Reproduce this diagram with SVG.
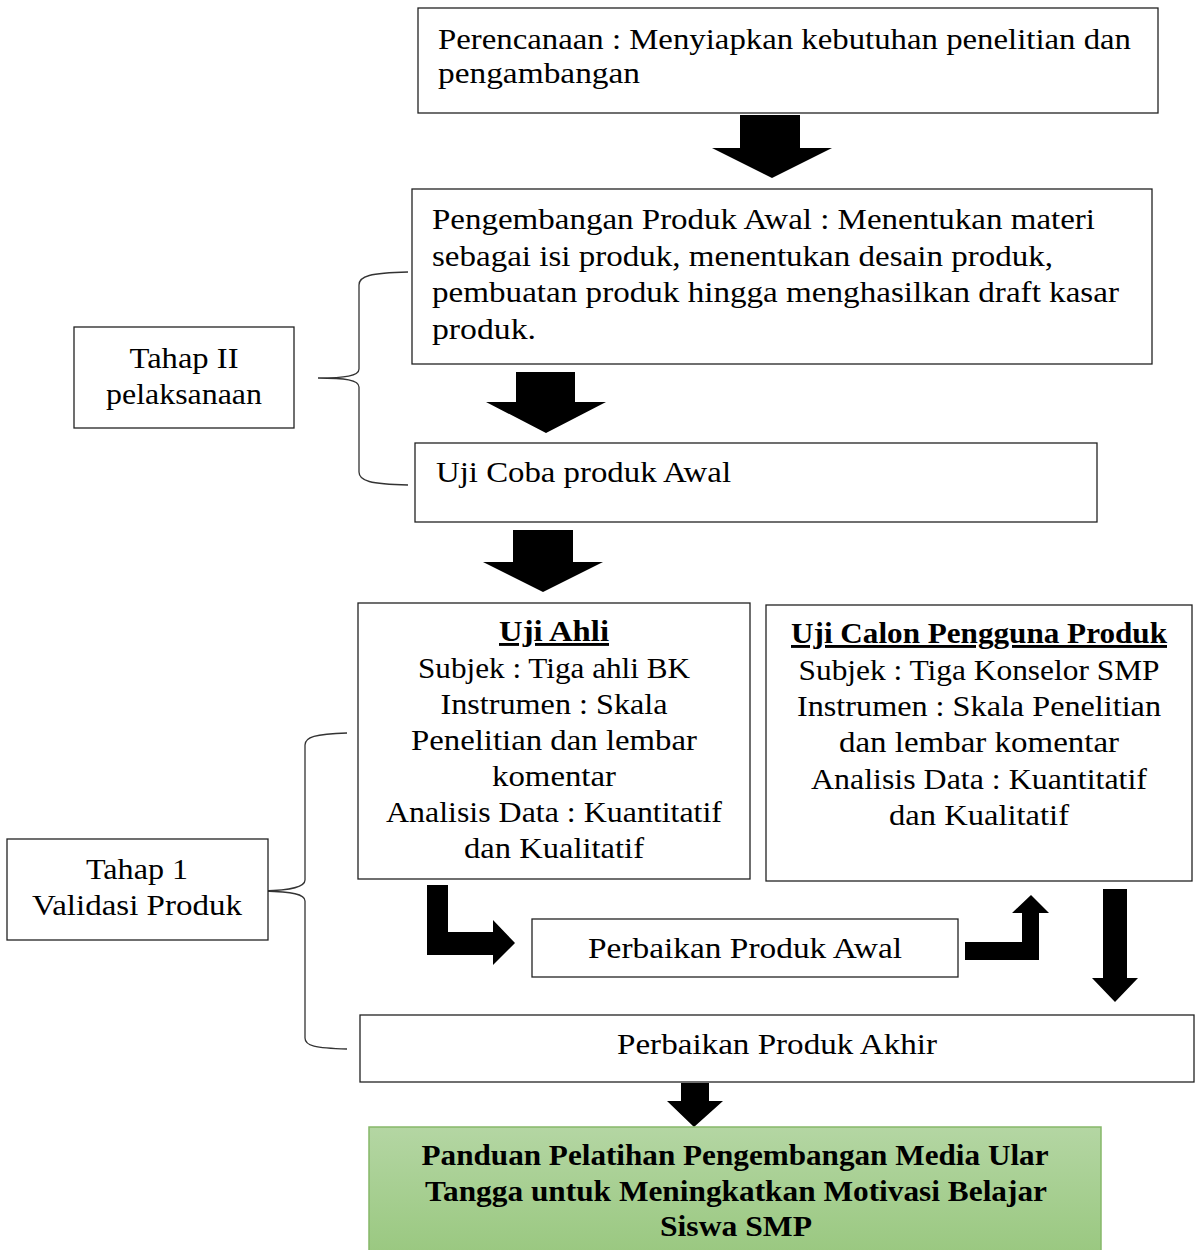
<svg xmlns="http://www.w3.org/2000/svg" width="1197" height="1250" viewBox="0 0 1197 1250">
<style>
.box{fill:#fff;stroke:#222;stroke-width:1.3}
.t{font-family:"Liberation Serif","Times New Roman",serif;font-size:29px;fill:#000}
.c{text-anchor:middle}
.b{font-weight:bold}
.u{text-decoration:underline}
.arr{fill:#000;stroke:none}
.brace{fill:none;stroke:#333;stroke-width:1.3}
</style>
<defs>
<linearGradient id="g" x1="0" y1="0" x2="0" y2="1">
<stop offset="0" stop-color="#b4d6a3"/>
<stop offset="1" stop-color="#98c77e"/>
</linearGradient>
</defs>
<rect width="1197" height="1250" fill="#fff"/>

<g id="connectors">
<path class="arr" d="M740,115 H800 V148 H832 L772,178 L712,148 H740 Z"/>
<path class="arr" d="M516,372 H575 V402 H606 L546,433 L486,402 H516 Z"/>
<path class="arr" d="M513,530 H573 V562 H603 L543,592 L483,562 H513 Z"/>
<path class="arr" d="M427,885 H448 V932 H493 V920 L515,943 L493,965 V955 H427 Z"/>
<path class="arr" d="M965,942 H1022 V913 H1012 L1031,895 L1049,913 H1039 V960 H965 Z"/>
<path class="arr" d="M1103,889 H1127 V978 H1138 L1115,1002 L1092,978 H1103 Z"/>
<path class="arr" d="M681,1083 H709 V1101 H723 L694,1127 L667,1101 H681 Z"/>
<path class="brace" d="M408,272 C370,273 359,276 359,285 V369 C359,376 345,378 318,378 C345,378 359,380 359,387 V472 C359,481 370,484 408,485"/>
<path class="brace" d="M347,733 C315,734 305,737 305,745 V880 C305,887 292,890 264,891 C292,892 305,894 305,901 V1038 C305,1046 315,1048 347,1049"/>
</g>

<g id="perencanaan">
<rect class="box" x="418" y="8" width="740" height="105"/>
<text class="t" x="438" y="49" textLength="693" lengthAdjust="spacingAndGlyphs">Perencanaan : Menyiapkan kebutuhan penelitian dan</text>
<text class="t" x="438" y="83" textLength="202" lengthAdjust="spacingAndGlyphs">pengambangan</text>
</g>

<g id="pengembangan">
<rect class="box" x="412" y="189" width="740" height="175"/>
<text class="t" x="432" y="229" textLength="663" lengthAdjust="spacingAndGlyphs">Pengembangan Produk Awal : Menentukan materi</text>
<text class="t" x="432" y="266" textLength="621" lengthAdjust="spacingAndGlyphs">sebagai isi produk, menentukan desain produk,</text>
<text class="t" x="432" y="302" textLength="687" lengthAdjust="spacingAndGlyphs">pembuatan produk hingga menghasilkan draft kasar</text>
<text class="t" x="432" y="339" textLength="104" lengthAdjust="spacingAndGlyphs">produk.</text>
</g>

<g id="ujicoba">
<rect class="box" x="415" y="443" width="682" height="79"/>
<text class="t" x="436" y="482" textLength="295" lengthAdjust="spacingAndGlyphs">Uji Coba produk Awal</text>
</g>

<g id="tahap2">
<rect class="box" x="74" y="327" width="220" height="101"/>
<text class="t c" x="184" y="368" textLength="109" lengthAdjust="spacingAndGlyphs">Tahap II</text>
<text class="t c" x="184" y="404" textLength="156" lengthAdjust="spacingAndGlyphs">pelaksanaan</text>
</g>

<g id="ujiahli">
<rect class="box" x="358" y="603" width="392" height="276"/>
<text class="t c b u" x="554" y="641" textLength="110" lengthAdjust="spacingAndGlyphs">Uji Ahli</text>
<text class="t c" x="554" y="678" textLength="272" lengthAdjust="spacingAndGlyphs">Subjek : Tiga ahli BK</text>
<text class="t c" x="554" y="714" textLength="227" lengthAdjust="spacingAndGlyphs">Instrumen : Skala</text>
<text class="t c" x="554" y="750" textLength="286" lengthAdjust="spacingAndGlyphs">Penelitian dan lembar</text>
<text class="t c" x="554" y="786" textLength="124" lengthAdjust="spacingAndGlyphs">komentar</text>
<text class="t c" x="554" y="822" textLength="336" lengthAdjust="spacingAndGlyphs">Analisis Data : Kuantitatif</text>
<text class="t c" x="554" y="858" textLength="180" lengthAdjust="spacingAndGlyphs">dan Kualitatif</text>
</g>

<g id="ujicalon">
<rect class="box" x="766" y="605" width="426" height="276"/>
<text class="t c b u" x="979" y="643" textLength="376" lengthAdjust="spacingAndGlyphs">Uji Calon Pengguna Produk</text>
<text class="t c" x="979" y="680" textLength="361" lengthAdjust="spacingAndGlyphs">Subjek : Tiga Konselor SMP</text>
<text class="t c" x="979" y="716" textLength="364" lengthAdjust="spacingAndGlyphs">Instrumen : Skala Penelitian</text>
<text class="t c" x="979" y="752" textLength="280" lengthAdjust="spacingAndGlyphs">dan lembar komentar</text>
<text class="t c" x="979" y="789" textLength="336" lengthAdjust="spacingAndGlyphs">Analisis Data : Kuantitatif</text>
<text class="t c" x="979" y="825" textLength="180" lengthAdjust="spacingAndGlyphs">dan Kualitatif</text>
</g>

<g id="tahap1">
<rect class="box" x="7" y="839" width="261" height="101"/>
<text class="t c" x="137" y="879" textLength="102" lengthAdjust="spacingAndGlyphs">Tahap 1</text>
<text class="t c" x="137" y="915" textLength="210" lengthAdjust="spacingAndGlyphs">Validasi Produk</text>
</g>

<g id="perbaikanawal">
<rect class="box" x="532" y="919" width="426" height="58"/>
<text class="t c" x="745" y="958" textLength="314" lengthAdjust="spacingAndGlyphs">Perbaikan Produk Awal</text>
</g>

<g id="perbaikanakhir">
<rect class="box" x="360" y="1015" width="834" height="67"/>
<text class="t c" x="777" y="1054" textLength="320" lengthAdjust="spacingAndGlyphs">Perbaikan Produk Akhir</text>
</g>

<g id="panduan">
<rect x="369" y="1127" width="732" height="135" fill="url(#g)" stroke="#86b86a" stroke-width="1.5"/>
<text class="t c b" x="735" y="1165" textLength="627" lengthAdjust="spacingAndGlyphs">Panduan Pelatihan Pengembangan Media Ular</text>
<text class="t c b" x="736" y="1201" textLength="622" lengthAdjust="spacingAndGlyphs">Tangga untuk Meningkatkan Motivasi Belajar</text>
<text class="t c b" x="736" y="1236" textLength="152" lengthAdjust="spacingAndGlyphs">Siswa SMP</text>
</g>
</svg>
